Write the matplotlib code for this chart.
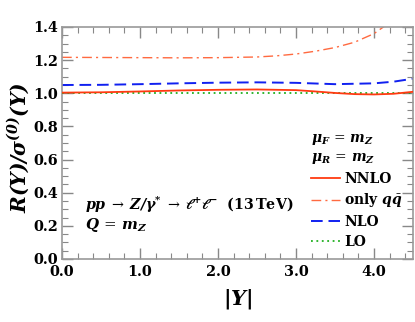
import numpy as np
import matplotlib
matplotlib.use("Agg")
import matplotlib.pyplot as plt
from matplotlib.ticker import MultipleLocator, FuncFormatter

plt.rcParams['mathtext.fontset'] = 'custom'
plt.rcParams['mathtext.rm'] = 'DejaVu Serif'
plt.rcParams['mathtext.it'] = 'DejaVu Serif:italic'
plt.rcParams['mathtext.bf'] = 'DejaVu Serif:bold'
plt.rcParams['mathtext.bfit'] = 'DejaVu Serif:italic:bold'
plt.rcParams['font.family'] = ['DejaVu Serif']

# data
x_nnlo = [0.0, 0.5, 1.0, 1.5, 2.0, 2.5, 3.0, 3.25, 3.5, 3.75, 4.0, 4.25, 4.5]
y_nnlo = [1.004, 1.006, 1.011, 1.017, 1.021, 1.023, 1.019, 1.011, 1.002, 0.995, 0.993, 0.997, 1.009]

x_qq = [0.0, 0.5, 1.0, 1.5, 2.0, 2.5, 2.75, 3.0, 3.25, 3.5, 3.75, 4.0, 4.12, 4.3]
y_qq = [1.217, 1.216, 1.215, 1.214, 1.215, 1.219, 1.226, 1.237, 1.254, 1.276, 1.308, 1.36, 1.40, 1.47]

x_nlo = [0.0, 0.5, 1.0, 1.5, 2.0, 2.5, 3.0, 3.5, 4.0, 4.25, 4.5]
y_nlo = [1.050, 1.051, 1.055, 1.060, 1.064, 1.066, 1.063, 1.055, 1.060, 1.070, 1.088]

x_lo = [0.0, 4.5]
y_lo = [1.0, 1.0]

W, H = 415, 322
fig = plt.figure(figsize=(4.15, 3.22), dpi=100)
ax = fig.add_axes([62 / W, 1 - 259 / H, (413 - 62) / W, (259 - 27) / H])

ax.plot(x_nnlo, y_nnlo, color='#ff3a10', lw=1.3, label='NNLO', zorder=4)
ax.plot(x_qq, y_qq, color='#ff6a40', lw=1.0, dashes=[7, 3, 1.5, 3],
        label=r'only $\mathbfit{q}\bar{\mathbfit{q}}$')
ax.plot(x_nlo, y_nlo, color='#1020f0', lw=1.4, dashes=[6, 3], label='NLO')
ax.plot(x_lo, y_lo, color='#20b020', lw=1.3, dashes=[1, 2], label='LO', zorder=3)

ax.set_xlim(0, 4.5)
ax.set_ylim(0, 1.4)
ax.xaxis.set_major_locator(MultipleLocator(1.0))
ax.xaxis.set_minor_locator(MultipleLocator(0.2))
ax.yaxis.set_major_locator(MultipleLocator(0.2))
ax.yaxis.set_minor_locator(MultipleLocator(0.05))
fmt = FuncFormatter(lambda v, p: '%.1f' % v)
ax.xaxis.set_major_formatter(fmt)
ax.yaxis.set_major_formatter(fmt)
ax.tick_params(which='both', direction='in', top=True, right=True, color='#888888', labelsize=10.4)
ax.tick_params(which='major', length=8, width=1.0)
ax.tick_params(which='minor', length=4, width=0.8)
ax.tick_params(axis='x', pad=4)
ax.tick_params(axis='y', pad=3)
for lab in ax.get_xticklabels() + ax.get_yticklabels():
    lab.set_fontweight('bold')
for s in ax.spines.values():
    s.set_color('#999999')
    s.set_linewidth(1.2)

ax.set_ylabel(r'$\mathbfit{R(Y)/\sigma^{(0)}(Y)}$', fontsize=14.5)
ax.yaxis.set_label_coords((31 - 62) / 351, 1 - (148 - 27) / 232)
ax.set_xlabel(r'$\mathbfit{|Y|}$', fontsize=15, labelpad=6)

ax.text(85, H - 205,
        r'$\mathbfit{pp}\;\rightarrow\;\mathbfit{Z/\gamma^{*}}\;\rightarrow\;\mathbfit{\ell^{+}\ell^{-}}$  $\mathbf{(13\,TeV)}$',
        transform=None, fontsize=10.3, va='center')
ax.text(85, H - 225, r'$\mathbfit{Q}\,=\,\mathbfit{m_Z}$', transform=None, fontsize=10.8, va='center')

leg = ax.legend(loc='upper left', bbox_to_anchor=(311 / W, 1 - 132 / H),
                bbox_transform=fig.transFigure, frameon=False, fontsize=10,
                handlelength=2.1, handletextpad=0.3, labelspacing=0.42,
                borderpad=0, borderaxespad=0,
                title='$\\mathbfit{\\mu_F}\\,=\\,\\mathbfit{m_Z}$\n$\\mathbfit{\\mu_R}\\,=\\,\\mathbfit{m_Z}$',
                title_fontsize=10)
leg._legend_box.align = 'left'
for t in leg.get_texts():
    t.set_fontweight('bold')
leg.get_title().set_linespacing(1.25)

fig.savefig('out.png', dpi=100)
